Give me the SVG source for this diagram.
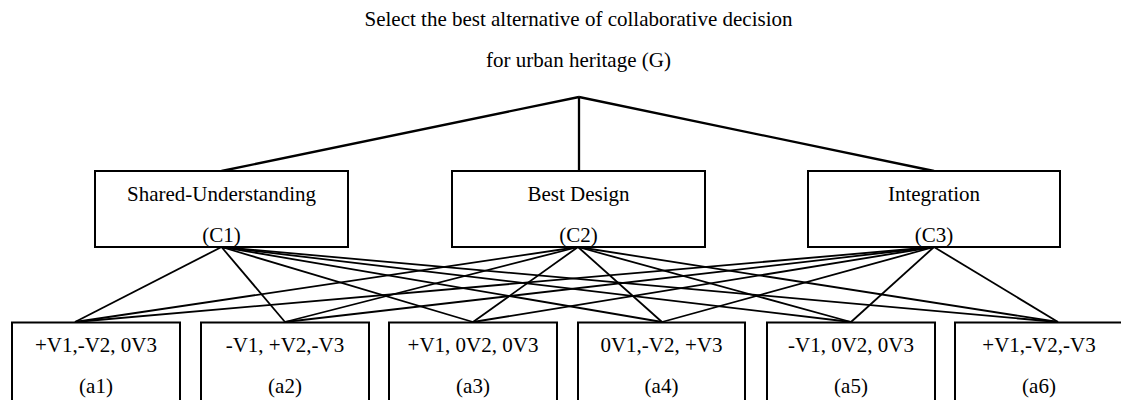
<svg xmlns="http://www.w3.org/2000/svg" width="1121" height="400" viewBox="0 0 1121 400">
<style>
text{font-family:'Liberation Serif','Times New Roman',Times,serif;font-size:21px;fill:#000;text-anchor:middle}
.box{fill:#fff;stroke:#000;stroke-width:2}
.top{stroke:#000;stroke-width:2.3;fill:none}
.con{stroke:#000;stroke-width:1.8;fill:none}
</style>
<rect width="1121" height="400" fill="#fff"/>
<g id="goal">
<text x="578.5" y="26">Select the best alternative of collaborative decision</text>
<text x="578.5" y="67">for urban heritage (G)</text>
</g>
<g id="connectors">
<line class="top" x1="579" y1="97" x2="221.5" y2="171"/>
<line class="top" x1="579" y1="97" x2="579" y2="171" stroke-width="3"/>
<line class="top" x1="579" y1="97" x2="934" y2="171"/>
<g class="con">
<line x1="221.5" y1="247" x2="75" y2="322"/>
<line x1="221.5" y1="247" x2="285" y2="322"/>
<line x1="221.5" y1="247" x2="473" y2="322"/>
<line x1="221.5" y1="247" x2="662" y2="322"/>
<line x1="221.5" y1="247" x2="851" y2="322"/>
<line x1="221.5" y1="247" x2="1058" y2="322"/>
<line x1="578" y1="247" x2="75" y2="322"/>
<line x1="578" y1="247" x2="285" y2="322"/>
<line x1="578" y1="247" x2="473" y2="322"/>
<line x1="578" y1="247" x2="662" y2="322"/>
<line x1="578" y1="247" x2="851" y2="322"/>
<line x1="578" y1="247" x2="1058" y2="322"/>
<line x1="934" y1="247" x2="75" y2="322"/>
<line x1="934" y1="247" x2="285" y2="322"/>
<line x1="934" y1="247" x2="473" y2="322"/>
<line x1="934" y1="247" x2="662" y2="322"/>
<line x1="934" y1="247" x2="851" y2="322"/>
<line x1="934" y1="247" x2="1058" y2="322"/>
</g>
</g>
<g id="C1">
<rect class="box" x="95" y="171" width="253" height="76"/>
<text x="221.5" y="201">Shared-Understanding</text>
<text x="221.5" y="242">(C1)</text>
</g>
<g id="C2">
<rect class="box" x="452" y="171" width="253" height="76"/>
<text x="578.5" y="201">Best Design</text>
<text x="578.5" y="242">(C2)</text>
</g>
<g id="C3">
<rect class="box" x="808" y="171" width="252" height="76"/>
<text x="934" y="201">Integration</text>
<text x="934" y="242">(C3)</text>
</g>
<g id="a1">
<rect class="box" x="12" y="322.5" width="168" height="90"/>
<text x="96" y="352">+V1,-V2, 0V3</text>
<text x="96" y="393">(a1)</text>
</g>
<g id="a2">
<rect class="box" x="201" y="322.5" width="168" height="90"/>
<text x="285" y="352">-V1, +V2,-V3</text>
<text x="285" y="393">(a2)</text>
</g>
<g id="a3">
<rect class="box" x="389" y="322.5" width="168" height="90"/>
<text x="473" y="352">+V1, 0V2, 0V3</text>
<text x="473" y="393">(a3)</text>
</g>
<g id="a4">
<rect class="box" x="578" y="322.5" width="167" height="90"/>
<text x="661.5" y="352">0V1,-V2, +V3</text>
<text x="661.5" y="393">(a4)</text>
</g>
<g id="a5">
<rect class="box" x="767" y="322.5" width="168" height="90"/>
<text x="851" y="352">-V1, 0V2, 0V3</text>
<text x="851" y="393">(a5)</text>
</g>
<g id="a6">
<rect class="box" x="955" y="322.5" width="168" height="90"/>
<text x="1039" y="352">+V1,-V2,-V3</text>
<text x="1039" y="393">(a6)</text>
</g>
</svg>
